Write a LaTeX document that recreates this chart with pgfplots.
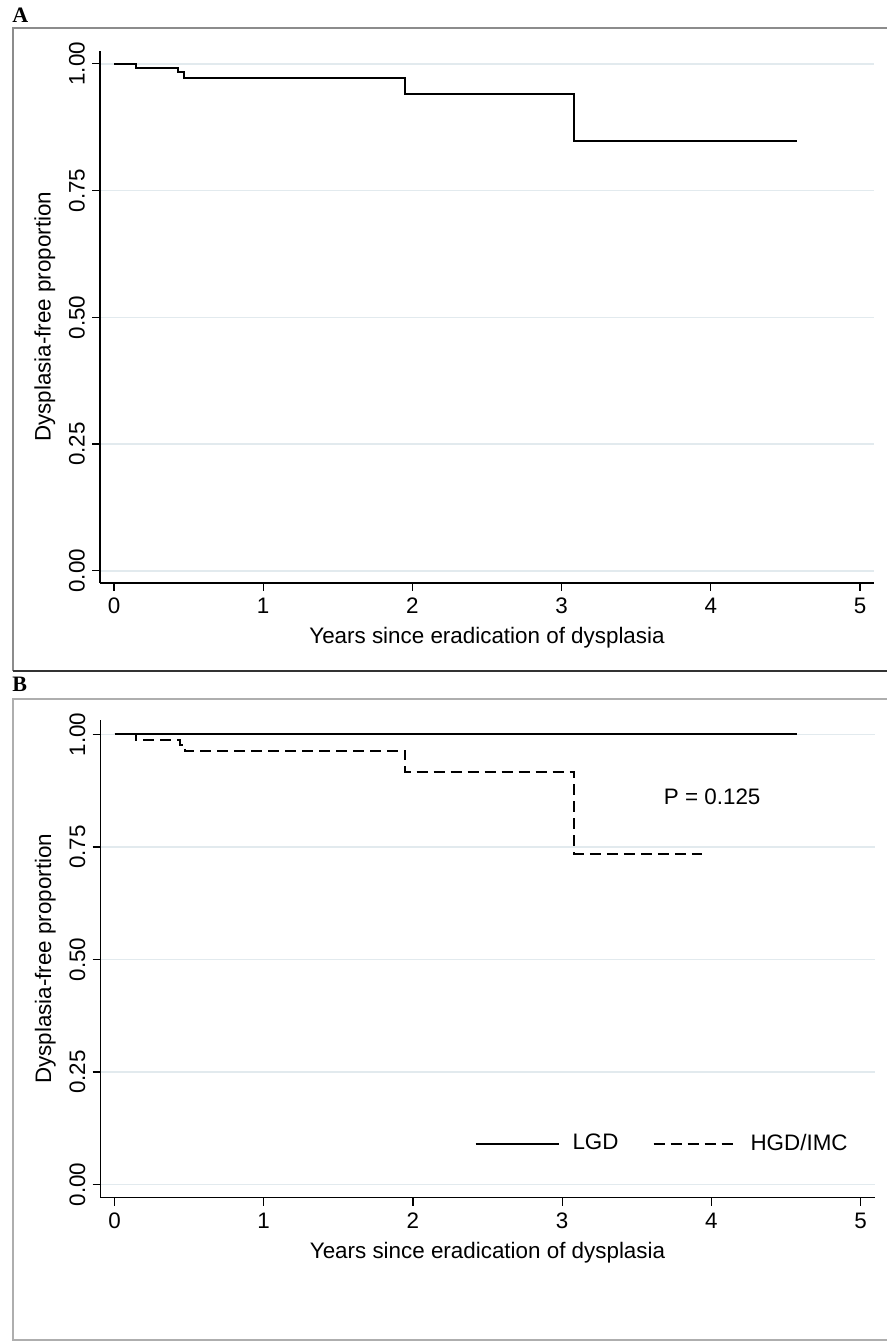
\documentclass[border=0pt]{standalone}
\usepackage{fontspec}
\setmainfont{Liberation Sans}
\newfontfamily\labfont{Liberation Serif}
\usepackage{pgfplots}
\pgfplotsset{compat=1.18}

\definecolor{gridc}{RGB}{226,234,238}
\definecolor{framec}{RGB}{140,140,140}

\pgfplotsset{kmstyle/.style={
  scale only axis,
  width=387pt,
  xmin=-0.094, xmax=5.094,
  axis x line*=bottom,
  axis y line*=left,
  tick align=outside,
  major tick length=4pt,
  xtick={0,1,2,3,4,5},
  ytick={0,0.25,0.5,0.75,1},
  yticklabel style={rotate=90, anchor=south,
    /pgf/number format/fixed,
    /pgf/number format/fixed zerofill,
    /pgf/number format/precision=2},
  ymajorgrids,
  grid style={gridc, line width=0.8pt},
  axis line style={black, line width=0.6pt},
  tick style={black, line width=0.6pt},
  font=\fontsize{11.2}{13}\selectfont,
  /pgf/number format/assume math mode=true,
  xlabel={Years since eradication of dysplasia},
  ylabel={Dysplasia-free proportion},
  anchor=south west,
}}

\begin{document}
\begin{tikzpicture}[x=0.5pt,y=0.5pt]
\useasboundingbox (0,0) rectangle (887,1341);

% panel frames
\draw[framec, line width=0.8pt] (887,1312.7) -- (12.7,1312.7) -- (12.7,670);
\draw[black!80, line width=0.9pt] (12.7,670) -- (887,670);
\draw[framec!70, line width=0.8pt] (887,641.7) -- (12.7,641.7) -- (12.7,1) -- (887,1);
\node[anchor=base west, inner sep=0, font=\labfont\bfseries\fontsize{11}{12}\selectfont] at (12,1318.3) {A};
\node[anchor=base west, inner sep=0, font=\labfont\bfseries\fontsize{11}{12}\selectfont] at (12,649.3) {B};

% panel A
\begin{axis}[kmstyle, at={(50pt,379pt)}, height=266.15pt,
  ymin=-0.024, ymax=1.026]
\addplot[const plot, black, line width=1pt] coordinates {
  (0,1) (0.147,0.992) (0.431,0.983) (0.472,0.972)
  (1.95,0.941) (3.083,0.847) (4.575,0.847)
};
\end{axis}

% panel B
\begin{axis}[kmstyle, at={(50.25pt,71.65pt)}, height=238.85pt,
  ymin=-0.029, ymax=1.032,
  legend style={draw=none, fill=none, at={(axis cs:2.37,0.091)}, anchor=west,
    legend columns=2, font=\fontsize{11.2}{13}\selectfont,
    /tikz/every even column/.append style={column sep=15pt}},
  legend image code/.code={\draw[#1] (0pt,0pt) -- (41.7pt,0pt); \path (46pt,0pt);}]
\addplot[const plot, black, line width=1pt] coordinates {
  (0,1) (4.575,1)
};
\addplot[const plot, black, line width=1pt, dash pattern=on 5.5pt off 3pt] coordinates {
  (0,1) (0.147,0.988) (0.44,0.976) (0.472,0.964)
  (1.95,0.916) (3.083,0.734) (3.94,0.734)
};
\node at (axis cs:4.006,0.861) {P = 0.125};
\legend{LGD,HGD/IMC}
\end{axis}
\end{tikzpicture}
\end{document}
